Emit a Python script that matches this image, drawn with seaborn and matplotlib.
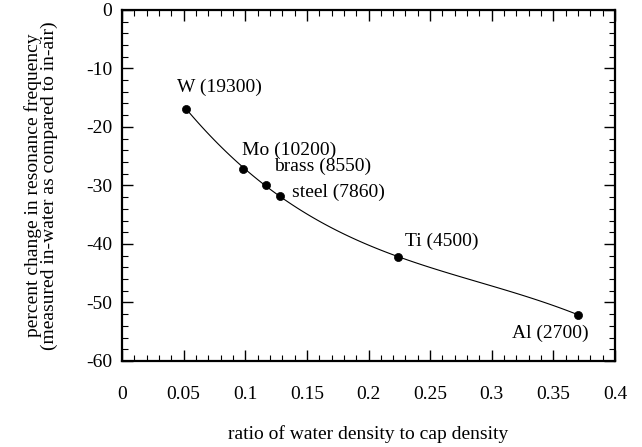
import matplotlib
matplotlib.use("Agg")
import matplotlib.pyplot as plt
import seaborn as sns
import pandas as pd
from matplotlib.ticker import MultipleLocator

# data
materials = ["W (19300)", "Mo (10200)", "brass (8550)", "steel (7860)", "Ti (4500)", "Al (2700)"]
density_ratio = [0.0522, 0.098, 0.117, 0.128, 0.224, 0.370]
freq_change = [-16.9, -27.2, -29.9, -31.8, -42.2, -52.1]
x_ticks = [0, 0.05, 0.1, 0.15, 0.2, 0.25, 0.3, 0.35, 0.4]
x_tick_labels = ["0", "0.05", "0.1", "0.15", "0.2", "0.25", "0.3", "0.35", "0.4"]
y_ticks = [0, -10, -20, -30, -40, -50, -60]
y_tick_labels = ["0", "-10", "-20", "-30", "-40", "-50", "-60"]

df = pd.DataFrame({"ratio": density_ratio, "change": freq_change, "name": materials})

sns.set_theme(style="white")
plt.rcParams["font.family"] = ["Liberation Serif", "DejaVu Serif"]
plt.rcParams["axes.unicode_minus"] = False

FS = 14

fig = plt.figure(figsize=(6.42, 4.47), dpi=100)
ax = fig.add_axes([0.19, 0.1924, 0.768, 0.7856])

sns.regplot(data=df, x="ratio", y="change", order=3, ci=None, scatter=False,
            line_kws={"color": "black", "lw": 0.8}, ax=ax)
sns.scatterplot(data=df, x="ratio", y="change", color="black", s=34,
                edgecolor="black", linewidth=0.5, ax=ax, zorder=3)

# label offsets in pixels (dx, dy)
offsets = [(-9, 21), (-1, 19), (8, 18), (12, 4), (7, 15), (-66, -19)]
for (x, y, name), (dx, dy) in zip(zip(density_ratio, freq_change, materials), offsets):
    ax.annotate(name, (x, y), xytext=(dx, dy), textcoords="offset pixels",
                ha="left", va="center", fontsize=FS, color="black")

ax.set_xlim(0, 0.4)
ax.set_ylim(-60, 0)
ax.set_xticks(x_ticks)
ax.set_xticklabels(x_tick_labels)
ax.set_yticks(y_ticks)
ax.set_yticklabels(y_tick_labels)
ax.xaxis.set_minor_locator(MultipleLocator(0.01))
ax.yaxis.set_minor_locator(MultipleLocator(2))
ax.tick_params(which="both", direction="in", top=True, right=True, bottom=True, left=True,
               color="black", labelsize=FS, labelcolor="black")
ax.tick_params(which="major", length=8, width=1.0)
ax.tick_params(which="minor", length=4, width=0.8)
ax.tick_params(axis="x", which="major", pad=18)
ax.tick_params(axis="y", which="major", pad=7)
for s in ax.spines.values():
    s.set_color("black")
    s.set_linewidth(1.6)

ax.set_xlabel("ratio of water density to cap density", fontsize=FS, color="black", labelpad=16)
ax.set_ylabel("percent change in resonance frequency\n(measured in-water as compared to in-air)",
              fontsize=FS, color="black", labelpad=20, linespacing=0.92)

fig.savefig("out.png", dpi=100)
